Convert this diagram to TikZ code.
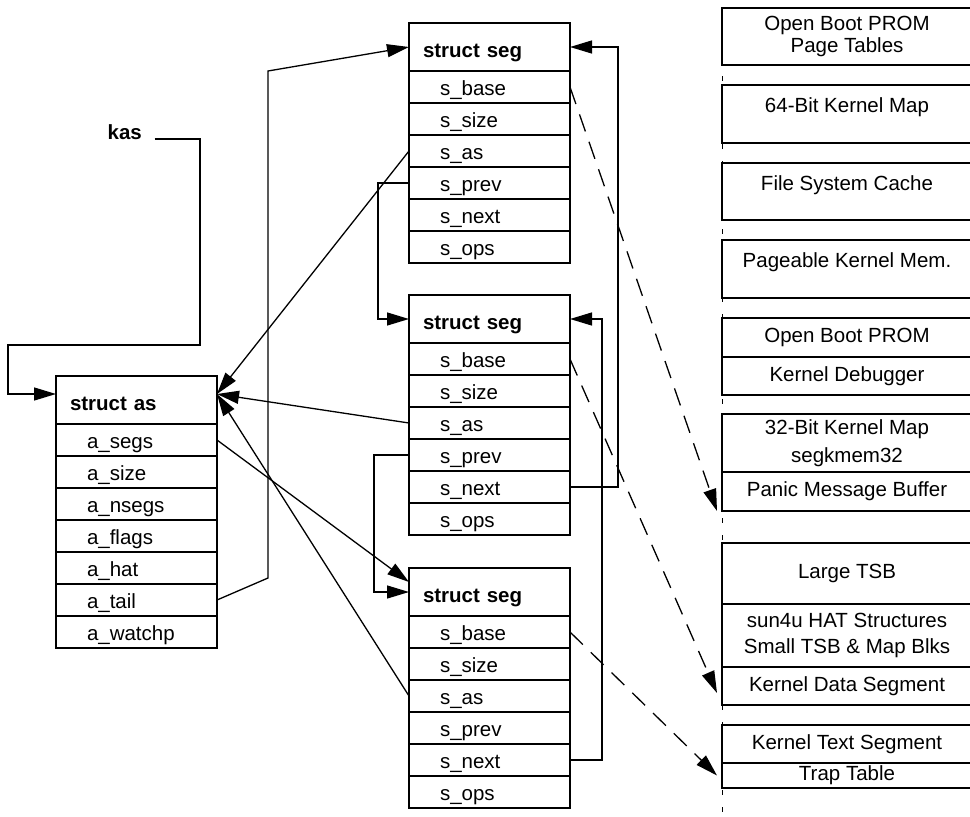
\documentclass[tikz,border=0pt]{standalone}
\usepackage{fontspec}
\setmainfont{Liberation Sans}
\usetikzlibrary{shapes}
\usetikzlibrary{arrows.meta}
\usetikzlibrary{positioning}

\begin{document}
\begin{tikzpicture}[x=1pt,y=-1pt,line width=1.3pt,
		>={Triangle[length=22pt,width=13pt]},
		every node/.style={font=\fontsize{20.5pt}{22pt}\selectfont}]
			\tikzstyle{box}=[draw, outer sep=0pt, inner ysep=0pt, align=left, text depth=0pt]
			\tikzstyle{hdr}=[box, anchor=north west, minimum height=48pt, text width=133pt, inner xsep=14pt, text height=20pt, execute at begin node=\bfseries]
			\tikzstyle{fld}=[box, minimum height=32pt, text width=99pt, inner xsep=31pt, text height=16pt]
			\tikzstyle{mem}=[draw, outer sep=0pt, anchor=north west, minimum width=250pt, inner sep=2pt, align=center]
			\tikzstyle{hi}=[text height=15pt, text depth=18pt]
			\tikzstyle{ptr}=[->]
			\tikzstyle{maps}=[->, dash pattern=on 18pt off 11pt]

			\useasboundingbox (0,0) rectangle (970,817);

			% struct as
			\node[hdr] (as-hdr) at (56,376) {struct as};
			\foreach \f [remember=\f as \g (initially hdr)] in {segs,size,nsegs,flags,hat,tail,watchp}
				\node[fld, below=0pt of as-\g] (as-\f) {a\_\f};
			\node[anchor=base west, inner xsep=12pt, execute at begin node=\bfseries] (kas) at (95,139) {kas};

			% struct seg, three of them
			\foreach \s/\y in {1/23,2/295,3/568} {
				\node[hdr] (s\s-hdr) at (409,\y) {struct seg};
				\foreach \f [remember=\f as \g (initially hdr)] in {base,size,as,prev,next,ops}
					\node[fld, below=0pt of s\s-\g] (s\s-\f) {s\_\f};
			}

			% kernel address space map
			\node[mem, minimum height=57pt] (obp-pt) at (722,8) {Open Boot PROM\\Page Tables};
			\node[mem, hi, minimum height=58pt] (map64) at (722,85) {64-Bit Kernel Map};
			\node[mem, hi, minimum height=57pt] (fscache) at (722,163) {File System Cache};
			\node[mem, hi, minimum height=58pt] (pkm) at (722,240) {Pageable Kernel Mem.};
			\node[mem, minimum height=39pt] (obp) at (722,318) {Open Boot PROM};
			\node[mem, minimum height=38pt] (kdbg) at (722,357) {Kernel Debugger};
			\node[mem, minimum height=58pt] (map32) at (722,414) {32-Bit Kernel Map\\[6pt]segkmem32};
			\node[mem, minimum height=39pt] (pmb) at (722,472) {Panic Message Buffer};
			\node[mem, minimum height=61pt] (ltsb) at (722,543) {Large TSB};
			\node[mem, minimum height=63pt] (hat) at (722,604) {sun4u HAT Structures\\[4pt]Small TSB \& Map Blks};
			\node[mem, minimum height=38pt] (kds) at (722,667) {Kernel Data Segment};
			\node[mem, minimum height=38pt] (kts) at (722,725) {Kernel Text Segment};
			\node[mem, minimum height=25pt] (trap) at (722,763) {Trap Table};
			\draw[line width=1pt, dash pattern=on 5pt off 12pt] (obp-pt.north west) -- (722,817);

			% pointers
			\coordinate (as-in) at ([yshift=6pt]as-hdr.east);
			\draw[ptr] (kas.base east) -| (200,345) -| ([xshift=-48pt,yshift=6pt]as-hdr.west) -- ([yshift=6pt]as-hdr.west);
			\draw[ptr] (as-tail.east) -- (268,578) -- (268,71) -- (s1-hdr.west);
			\draw[ptr] (as-segs.east) -- ([yshift=-14pt]s3-hdr.north west);
			\foreach \s in {1,2,3}
				\draw[ptr] (s\s-as.west) -- (as-in);
			\draw[ptr] (s1-prev.west) -- ++(-31,0) |- (s2-hdr.west);
			\draw[ptr] (s2-prev.west) -- ++(-35,0) |- (s3-hdr.west);
			\draw[ptr] (s2-next.east) -- ++(48,0) |- (s1-hdr.east);
			\draw[ptr] (s3-next.east) -- ++(32,0) |- (s2-hdr.east);

			% segment bases
			\draw[maps] (s1-base.east) -- ([xshift=-5pt]pmb.south west);
			\draw[maps] (s2-base.east) -- ([xshift=-5pt,yshift=12pt]kds.south west);
			\draw[maps] (s3-base.east) -- ([xshift=-5pt]trap.west);
\end{tikzpicture}
\end{document}
